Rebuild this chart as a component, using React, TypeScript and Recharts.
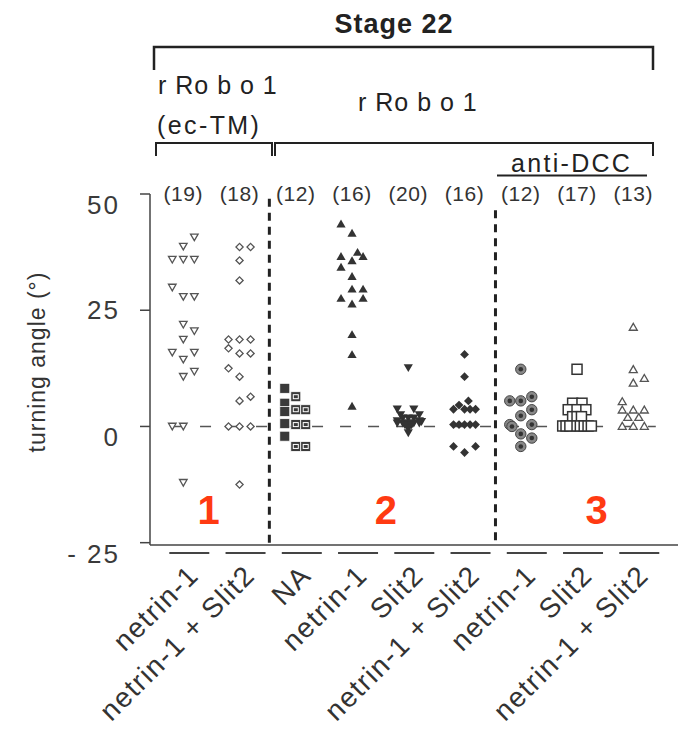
import React from 'react';
import { ScatterChart, Scatter, XAxis, YAxis, ReferenceLine, ReferenceDot } from 'recharts';

const FONT = '"Liberation Sans", Arial, Helvetica, sans-serif';
const INK = '#333';

// x-axis categories (bottom labels) and n per group (top labels)
const categories = [
  'netrin-1',
  'netrin-1 + Slit2',
  'NA',
  'netrin-1',
  'Slit2',
  'netrin-1 + Slit2',
  'netrin-1',
  'Slit2',
  'netrin-1 + Slit2',
];
const counts = [19, 18, 12, 16, 20, 16, 12, 17, 13];
const yTicks = [-25, 0, 25, 50];
const separatorX = [2.53, 6.55];
const groupNumbers = ['1', '2', '3'];
const groupNumberX = [1.45, 4.6, 8.35];
const groupNumberY = -18;

// each point: [turning angle (deg), jitter slot within the column]
const ecTmNetrin: number[][] = [
  [40.7, 1], [38.7, 0], [35.9, -1], [35.9, 0], [35.9, 1], [29.9, -1], [27.9, 0], [27.9, 1],
  [21.9, 0], [20.5, 1], [18.7, 0], [15.9, -1], [15.9, 1], [14.4, 0], [11.8, 1], [10.7, 0],
  [0, -1], [0, 0], [-12.1, 0],
];
const ecTmNetrinSlit: number[][] = [
  [38.6, 0], [38.6, 1], [35.7, 0], [31.4, 0], [18.7, -1], [18.7, 0], [18.7, 1], [16.8, -1],
  [15.7, 0], [15.7, 1], [12.5, -1], [10.7, 0], [6.4, 1], [5.5, 0], [0, -1], [0, 0], [0, 1],
  [-12.5, 0],
];
const robNA: number[][] = [
  [8.2, -1], [5.0, -1], [3.2, -1], [0.6, -1], [-2.1, -1],
  [6.4, 0], [3.6, 0], [0.4, 0], [-4.3, 0],
  [3.6, 0.9], [0.4, 0.9], [-4.3, 0.9],
];
const robNetrin: number[][] = [
  [43.6, -1], [41.6, 0], [37.5, 0.5], [36.6, 1], [36.6, -1], [35.7, 0], [34.3, -1], [32.3, 0],
  [29.6, 0], [29.6, 1], [27.6, -1], [27.6, 1], [26.4, 0], [19.8, 0], [15.5, 0], [4.4, 0],
];
const robSlit: number[][] = [
  [12.6, 0], [3.7, -1], [3.7, 0.5], [2.5, 1], [2.5, -0.7], [1.8, -0.5], [1.8, 0], [1.8, 0.5],
  [1.2, -1], [1.2, 1], [1.0, 1.2], [0.7, -1], [0.7, -0.5], [0.7, 0], [0.7, 0.5], [0.7, 1],
  [0.3, -0.3], [0.3, 0.3], [-0.5, 0], [-1.4, 0],
];
const robNetrinSlit: number[][] = [
  [15.5, 0], [10.7, 0], [5.5, 0.35], [4.6, -0.5], [3.7, -1], [3.7, 0], [3.7, 0.5], [3.7, 1],
  [0.4, -1], [0.4, -0.5], [0.4, 0], [0.4, 0.5], [0.4, 1], [-4.3, -1], [-4.3, 1], [-5.6, 0],
];
const dccNetrin: number[][] = [
  [12.3, 0], [6.4, 1], [5.5, -1], [5.5, 0], [3.6, 1], [2.3, 0], [0.4, -1], [0.4, 1],
  [0, -0.8], [-1.6, 0], [-2.5, 1], [-4.3, 0],
];
const dccSlit: number[][] = [
  [12.3, 0], [5.0, -0.4], [5.0, 0.45], [3.6, -0.8], [3.6, 0], [3.6, 0.8], [2.1, -0.4], [2.1, 0],
  [2.1, 0.4], [0.1, -1.3], [0.1, -1], [0.1, -0.65], [0.1, 0], [0.1, 0.3], [0.1, 0.65], [0.1, 1],
  [0.1, 1.3],
];
const dccNetrinSlit: number[][] = [
  [21.4, 0], [12.3, 0], [10.4, 1], [9.4, 0], [5.4, -1], [3.6, -1], [3.6, 0], [3.6, 1],
  [2.0, -0.5], [2.0, 0.5], [0.1, -1], [0.1, 0], [0.1, 1],
];

const SLOT = 0.196;
const toPoints = (arr: number[][], col: number) =>
  arr.map(([v, s]) => ({ x: col + s * SLOT, y: v, slot: s }));

type Kind =
  | 'triDownOpen' | 'diamondOpen' | 'squareFilled' | 'triUpFilled' | 'triDownFilled'
  | 'diamondFilled' | 'bullseye' | 'squareOpen' | 'triUpOpen';

const makeShape = (kind: Kind) => (props: any) => {
  const { cx, cy, payload } = props;
  if (cx == null || cy == null) return <g />;
  switch (kind) {
    case 'triDownOpen':
      return <polygon points={`${cx - 3.8},${cy - 3.2} ${cx + 3.8},${cy - 3.2} ${cx},${cy + 3.4}`} fill="#fff" stroke="#555" strokeWidth={1.3} />;
    case 'triUpOpen':
      return <polygon points={`${cx - 4},${cy + 3.3} ${cx + 4},${cy + 3.3} ${cx},${cy - 3.6}`} fill="#fff" stroke="#555" strokeWidth={1.3} />;
    case 'diamondOpen':
      return <polygon points={`${cx},${cy - 3.6} ${cx + 3.6},${cy} ${cx},${cy + 3.6} ${cx - 3.6},${cy}`} fill="#fff" stroke="#555" strokeWidth={1.3} />;
    case 'triUpFilled':
      return <polygon points={`${cx - 4.6},${cy + 3.7} ${cx + 4.6},${cy + 3.7} ${cx},${cy - 4.2}`} fill={INK} />;
    case 'triDownFilled':
      return <polygon points={`${cx - 4.6},${cy - 3.7} ${cx + 4.6},${cy - 3.7} ${cx},${cy + 4.2}`} fill={INK} />;
    case 'diamondFilled':
      return <polygon points={`${cx},${cy - 4.4} ${cx + 4.4},${cy} ${cx},${cy + 4.4} ${cx - 4.4},${cy}`} fill={INK} />;
    case 'squareFilled':
      return (
        <g>
          <rect x={cx - 5} y={cy - 5} width={10} height={10} fill="#3a3a3a" stroke="#fff" strokeWidth={0.8} />
          {payload && payload.slot >= 0 ? (
            <rect x={cx - 2.5} y={cy - 2} width={5} height={4} fill="none" stroke="#fff" strokeWidth={1} />
          ) : null}
        </g>
      );
    case 'squareOpen':
      return <rect x={cx - 5} y={cy - 5} width={10} height={10} fill="#fff" stroke={INK} strokeWidth={1.5} />;
    case 'bullseye':
      return (
        <g>
          <circle cx={cx} cy={cy} r={5.2} fill="#888" stroke="#444" strokeWidth={1} />
          <circle cx={cx} cy={cy} r={2.3} fill="#333" />
        </g>
      );
  }
  return <g />;
};

const series: { data: number[][]; kind: Kind }[] = [
  { data: ecTmNetrin, kind: 'triDownOpen' },
  { data: ecTmNetrinSlit, kind: 'diamondOpen' },
  { data: robNA, kind: 'squareFilled' },
  { data: robNetrin, kind: 'triUpFilled' },
  { data: robSlit, kind: 'triDownFilled' },
  { data: robNetrinSlit, kind: 'diamondFilled' },
  { data: dccNetrin, kind: 'bullseye' },
  { data: dccSlit, kind: 'squareOpen' },
  { data: dccNetrinSlit, kind: 'triUpOpen' },
];

const YTick = (props: any) => {
  const { x, y, payload } = props;
  const v = payload.value;
  const shift = v === 25 ? 0 : 11;
  const label = v < 0 ? `- ${-v}` : `${v}`;
  return (
    <text x={x - 18} y={y + shift + 9} textAnchor="end" fontSize={26} letterSpacing={2} fill="#3a3a3a" fontFamily={FONT}>
      {label}
    </text>
  );
};

const XTick = (props: any) => {
  const { x, y, payload } = props;
  const label = categories[Math.round(payload.value) - 1] ?? '';
  const ax = x + 17;
  const ay = y + 32;
  return (
    <g>
      <line x1={x - 14} x2={x + 26} y1={y + 8} y2={y + 8} stroke="#444" strokeWidth={1.8} />
      <text x={ax} y={ay} transform={`rotate(-45 ${ax} ${ay})`} textAnchor="end" fontSize={28} letterSpacing={1.5} fill="#333" fontFamily={FONT}>
        {label}
      </text>
    </g>
  );
};

const CountTick = (props: any) => {
  const { x, y, payload } = props;
  const n = counts[Math.round(payload.value) - 1];
  return (
    <text x={x} y={y + 7} textAnchor="middle" fontSize={21} letterSpacing={0.5} fill="#333" fontFamily={FONT}>
      {`(${n})`}
    </text>
  );
};

const catTicks = categories.map((_, i) => i + 1);
const X_DOMAIN: [number, number] = [0.408, 9.795];

export default function App() {
  return (
    <div style={{ position: 'absolute', left: 0, top: 0, width: 686, height: 743, background: '#fff', fontFamily: FONT }}>
      <ScatterChart width={686} height={743} margin={{ top: 184, right: 8, bottom: 0, left: 0 }}>
        <XAxis
          xAxisId="b"
          dataKey="x"
          type="number"
          domain={X_DOMAIN}
          ticks={catTicks}
          interval={0}
          allowDataOverflow
          height={198}
          tickLine={false}
          tickSize={0}
          tickMargin={0}
          axisLine={{ stroke: '#444', strokeWidth: 1.5 }}
          tick={<XTick />}
        />
        <XAxis
          xAxisId="t"
          orientation="top"
          dataKey="x"
          type="number"
          domain={X_DOMAIN}
          ticks={catTicks}
          interval={0}
          allowDataOverflow
          height={10}
          tickLine={false}
          axisLine={false}
          tickSize={0}
          tickMargin={0}
          tick={<CountTick />}
        />
        <YAxis
          dataKey="y"
          type="number"
          domain={[-25.5, 50]}
          ticks={yTicks}
          interval={0}
          width={150}
          tickSize={10}
          axisLine={{ stroke: '#444', strokeWidth: 1.5 }}
          tickLine={{ stroke: '#444', strokeWidth: 1.5 }}
          tick={<YTick />}
        />
        <ReferenceLine xAxisId="b" segment={[{ x: 0.8, y: 0 }, { x: 9.4, y: 0 }]} stroke="#555" strokeWidth={1.5} strokeDasharray="11 17" />
        <ReferenceLine xAxisId="b" segment={[{ x: separatorX[0], y: 49 }, { x: separatorX[0], y: -25.5 }]} stroke="#222" strokeWidth={3} strokeDasharray="8 6" />
        <ReferenceLine xAxisId="b" segment={[{ x: separatorX[1], y: 46.5 }, { x: separatorX[1], y: -25.5 }]} stroke="#222" strokeWidth={3} strokeDasharray="8 6" />
        {series.map((s, i) => (
          <Scatter
            key={i}
            xAxisId="b"
            data={toPoints(s.data, i + 1)}
            shape={makeShape(s.kind)}
            isAnimationActive={false}
          />
        ))}
        {groupNumbers.map((g, i) => (
          <ReferenceDot
            key={g}
            xAxisId="b"
            x={groupNumberX[i]}
            y={groupNumberY}
            r={0}
            fill="none"
            stroke="none"
            label={{ value: g, position: 'center', fill: '#ff3a12', fontSize: 40, fontWeight: 'bold', fontFamily: FONT }}
          />
        ))}
      </ScatterChart>
      <svg width={686} height={743} style={{ position: 'absolute', left: 0, top: 0, pointerEvents: 'none' }}>
        <text x={394} y={33} textAnchor="middle" fontSize={27} fontWeight="bold" letterSpacing={1} fill="#222" fontFamily={FONT}>Stage 22</text>
        <path d="M154 70 V47 H653 V70" fill="none" stroke="#222" strokeWidth={2.5} />
        <text x={158} y={94} fontSize={25} letterSpacing={1} fill="#222" fontFamily={FONT}>r Ro b o 1</text>
        <text x={157} y={134} fontSize={25} letterSpacing={2.4} fill="#222" fontFamily={FONT}>(ec-TM)</text>
        <text x={358} y={111} fontSize={25} letterSpacing={1} fill="#222" fontFamily={FONT}>r Ro b o 1</text>
        <path d="M156 156 V143 H272 V156" fill="none" stroke="#222" strokeWidth={2} />
        <path d="M275 156 V143 H653 V156" fill="none" stroke="#222" strokeWidth={2} />
        <text x={511} y={172} fontSize={25} letterSpacing={2.3} fill="#222" fontFamily={FONT}>anti-DCC</text>
        <line x1={497} x2={647} y1={175.5} y2={175.5} stroke="#222" strokeWidth={2} />
        <text x={0} y={0} transform="translate(45 362) rotate(-90)" textAnchor="middle" fontSize={23} letterSpacing={1} fill="#333" fontFamily={FONT}>turning angle (°)</text>
      </svg>
    </div>
  );
}
